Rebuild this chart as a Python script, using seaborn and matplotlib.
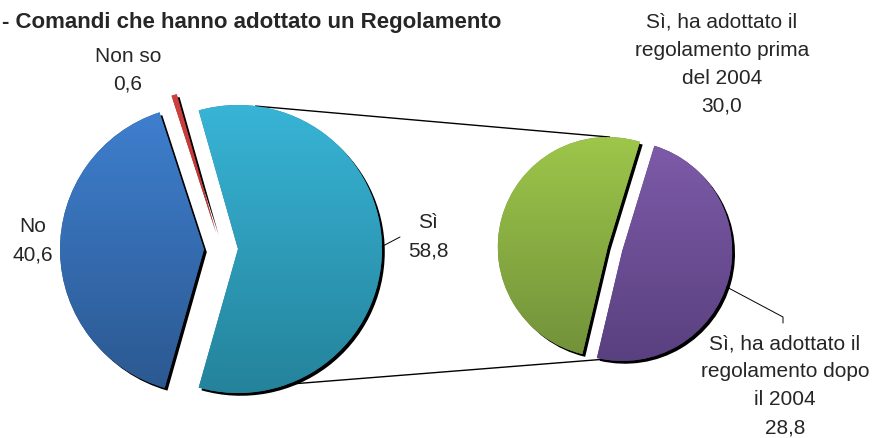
import numpy as np
import matplotlib
matplotlib.use("Agg")
import matplotlib.pyplot as plt
import matplotlib.patheffects as pe
from matplotlib.colors import to_rgb
import seaborn as sns

# data
main_labels = ["Sì", "Non so", "No"]
main_values = [58.8, 0.6, 40.6]
sub_labels = ["Sì, ha adottato il\nregolamento prima\ndel 2004",
              "Sì, ha adottato il\nregolamento dopo\nil 2004"]
sub_values = [30.0, 28.8]
title = "- Comandi che hanno adottato un Regolamento"

# (top, bottom) gradient colours
main_colors = [("#38b4d6", "#24839b"), ("#d0413f", "#a02c2a"), ("#3f80d0", "#2b5890")]
sub_colors = [("#9dc64a", "#72913a"), ("#7e5ba9", "#59407f")]

W, H = 875, 439
sns.set_style("white")
plt.rcParams['font.family'] = ['Liberation Sans', 'DejaVu Sans']

fig = plt.figure(figsize=(W / 100, H / 100), dpi=100)
ax = fig.add_axes([0, 0, 1, 1])


def py(y):
    return H - y


def fmt(v):
    return f"{v:.1f}".replace(".", ",")


def on_arc(w, deg):
    cx, cy = w.center
    a = np.deg2rad(deg)
    return cx + w.r * np.cos(a), cy + w.r * np.sin(a)


def shade(wedges, colors):
    # vertical gradient clipped to each wedge
    grad = np.linspace(0, 1, 256)[:, None, None]
    for w, (top, bot) in zip(wedges, colors):
        cx, cy = w.center
        r = w.r
        img = np.array(to_rgb(top)) * (1 - grad) + np.array(to_rgb(bot)) * grad
        im = ax.imshow(img, extent=(cx - r, cx + r, cy - r, cy + r), origin="upper",
                       zorder=2, aspect="auto", interpolation="bilinear")
        im.set_clip_path(w)


shadow = [pe.SimplePatchShadow(offset=(2, -2), shadow_rgbFace="black", alpha=1), pe.Normal()]

main_wedges, _ = ax.pie(main_values, startangle=-main_values[0] / sum(main_values) * 180,
                        center=(221, py(250)), radius=144, explode=[17] * 3,
                        colors=[c[1] for c in main_colors], frame=True,
                        wedgeprops=dict(linewidth=0, path_effects=shadow))
shade(main_wedges, main_colors)

sub_wedges, _ = ax.pie(sub_values, startangle=73, center=(615, py(250)), radius=110,
                       explode=[7.5] * 2, colors=[c[1] for c in sub_colors], frame=True,
                       wedgeprops=dict(linewidth=0, path_effects=shadow))
shade(sub_wedges, sub_colors)

# connector lines between the two pies
si = main_wedges[0]
for a1, w2, a2 in [(83, sub_wedges[0], 89), (-70, sub_wedges[1], 260)]:
    p1 = on_arc(si, a1)
    p2 = on_arc(w2, a2)
    ax.plot([p1[0], p2[0]], [p1[1], p2[1]], color="black", lw=1, zorder=1)

fs = 15
ls = 1.6
ax.text(2, py(22), title, fontsize=16, fontweight="bold", ha="left", va="center")

ax.text(128, py(70), f"{main_labels[1]}\n{fmt(main_values[1])}", fontsize=fs,
        ha="center", va="center", linespacing=ls)
ax.text(33, py(241), f"{main_labels[2]}\n{fmt(main_values[2])}", fontsize=fs,
        ha="center", va="center", linespacing=ls)
ax.text(428, py(237), f"{main_labels[0]}\n{fmt(main_values[0])}", fontsize=fs,
        ha="center", va="center", linespacing=ls)
p = on_arc(si, 1)
ax.plot([p[0], 400], [p[1], py(238)], color="black", lw=0.7, zorder=3)

ax.text(722, py(64), f"{sub_labels[0]}\n{fmt(sub_values[0])}", fontsize=fs,
        ha="center", va="center", linespacing=ls)
ax.text(785, py(386), f"{sub_labels[1]}\n{fmt(sub_values[1])}", fontsize=fs,
        ha="center", va="center", linespacing=ls)
p = on_arc(sub_wedges[1], -19)
ax.plot([p[0], 783, 783], [p[1], py(318), py(324)], color="black", lw=0.7, zorder=3)

ax.set_xlim(0, W)
ax.set_ylim(0, H)
ax.set_aspect("equal")
ax.axis("off")

fig.savefig("out.png", dpi=100)
